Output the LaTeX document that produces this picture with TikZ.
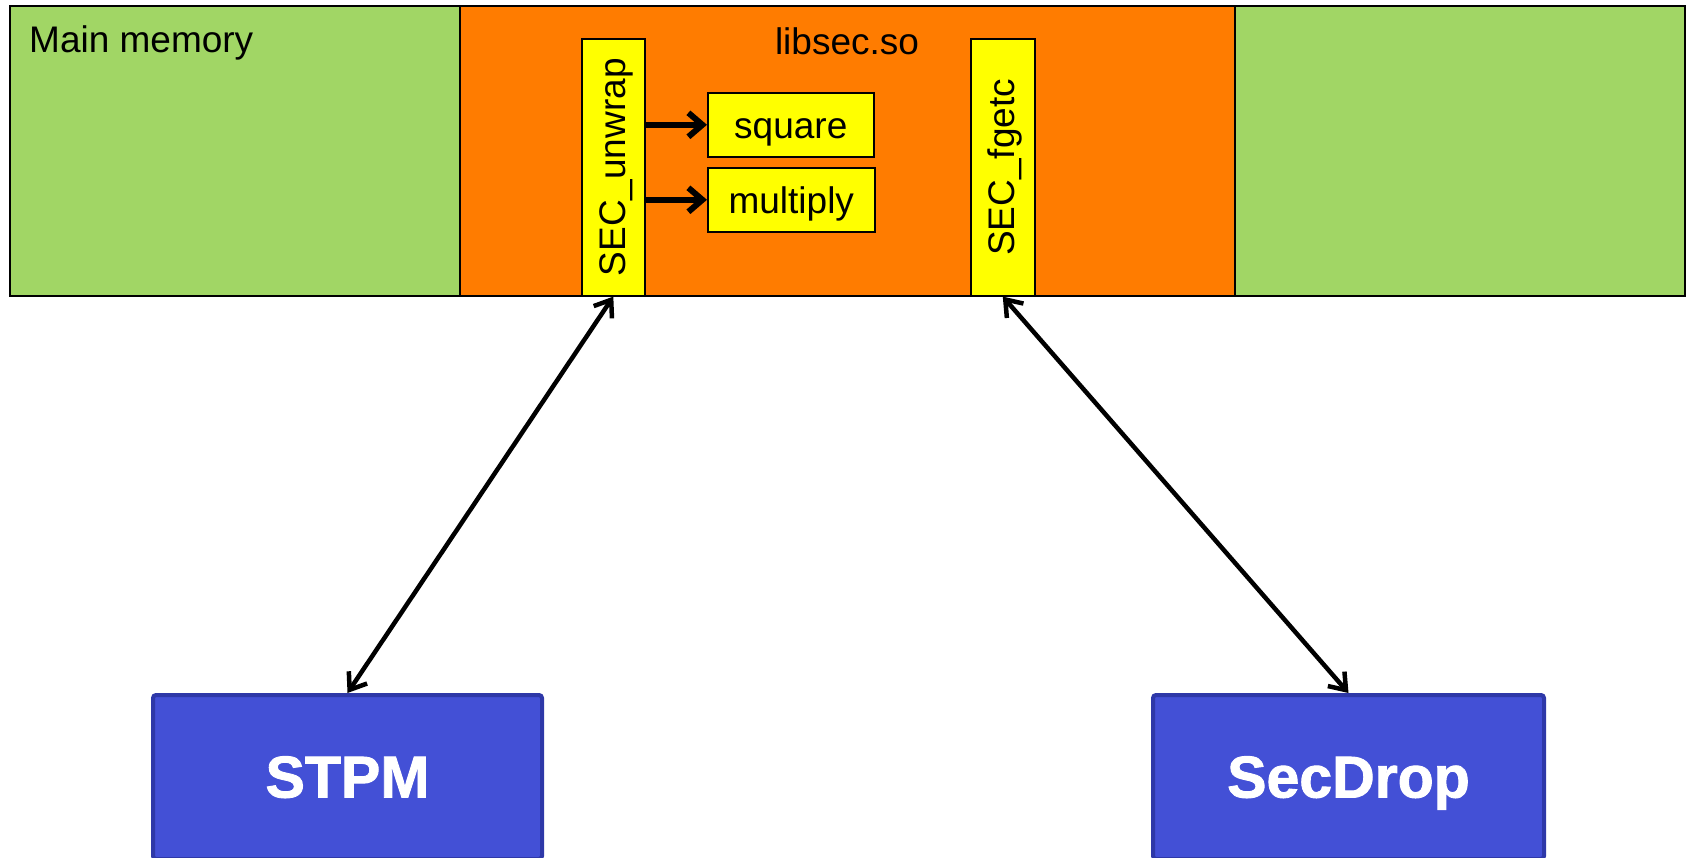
\documentclass[tikz,border=0pt]{standalone}
\usepackage{fontspec}
\setmainfont{Liberation Sans}
\newfontfamily\heavyfont[FakeBold=1.5]{Liberation Sans Bold}
\usetikzlibrary{arrows.meta}
\definecolor{memgreen}{RGB}{161,214,101}
\definecolor{liborange}{RGB}{255,124,0}
\definecolor{fnyellow}{RGB}{255,255,0}
\definecolor{devblue}{RGB}{67,80,214}
\definecolor{devedge}{RGB}{46,56,168}

\begin{document}
\begin{tikzpicture}[x=1pt,y=-1pt,
  region/.style={draw=black, line width=2pt, inner sep=0pt, anchor=north west},
  fnbox/.style={draw=black, line width=1.6pt, fill=fnyellow, inner sep=0pt, anchor=north west,
    font=\fontsize{37}{40}\selectfont, text height=28pt, text depth=0pt},
  fnlabel/.style={font=\fontsize{37}{40}\selectfont, inner sep=0pt},
  device/.style={draw=devedge, line width=4pt, fill=devblue, rounded corners=3pt, inner sep=0pt,
    anchor=north west, text=white, font=\heavyfont\fontsize{59}{60}\selectfont,
    text height=41pt, text depth=0pt},
  call/.style={-{Straight Barb[length=14pt,width=24pt]}, line width=6pt},
  link/.style={{Straight Barb[length=15pt,width=22pt]}-{Straight Barb[length=15pt,width=22pt]}, line width=4.5pt},
]
\useasboundingbox (0,0) rectangle (1687,858);

% memory regions
\node[region, fill=memgreen, minimum width=1675pt, minimum height=290pt] (mem) at (8.6,5.4) {};
\node[region, fill=liborange, minimum width=775pt, minimum height=290pt] (lib) at (459,5.4) {};
\node[fnlabel, anchor=base west] (memlabel) at (29,53) {Main memory};
\node[fnlabel, anchor=base] (liblabel) at (847,55) {libsec.so};

% library functions
\node[fnbox, minimum width=63pt, minimum height=257pt] (unwrap) at (581,38) {};
\node[fnlabel, rotate=90] (unwraplabel) at ([xshift=3pt]unwrap.center) {SEC\_unwrap};
\node[fnbox, minimum width=64pt, minimum height=257pt] (fgetc) at (970,38) {};
\node[fnlabel, rotate=90] (fgetclabel) at ([xshift=2pt]fgetc.center) {SEC\_fgetc};
\node[fnbox, minimum width=166pt, minimum height=64pt] (square) at (707,92) {square};
\node[fnbox, minimum width=167pt, minimum height=64pt] (multiply) at (707,167) {multiply};

\draw[call] (unwrap.east |- square.west) -- (square.west);
\draw[call] (unwrap.east |- multiply.west) -- (multiply.west);

% devices
\node[device, minimum width=389pt, minimum height=164pt] (stpm) at (151,693) {STPM};
\node[device, minimum width=391pt, minimum height=164pt] (secdrop) at (1151,693) {SecDrop};

\draw[link] (unwrap.south) -- (stpm.north);
\draw[link] (fgetc.south) -- (secdrop.north);
\end{tikzpicture}
\end{document}
